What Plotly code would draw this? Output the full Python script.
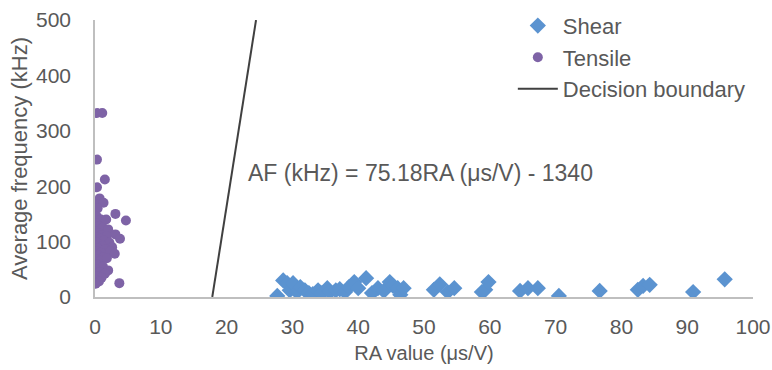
import plotly.graph_objects as go

# Shear data (RA value μs/V, AF kHz)
shear_ra = [27.7, 28.6, 29.2, 29.6, 30.1, 30.7, 31.2, 31.9, 32.5, 33.1, 33.9, 34.5, 35.3, 35.7,
            36.6, 37.2, 38.0, 38.6, 39.4, 40.0, 41.2, 42.1, 43.0, 43.9, 44.8, 45.3, 46.0, 46.4,
            46.9, 51.5, 52.4, 53.6, 54.6, 58.8, 59.3, 59.8, 64.6, 65.8, 67.3, 70.5, 76.7, 82.5,
            83.3, 84.3, 90.9, 95.7]
shear_af = [2, 30, 25, 12, 25, 9, 18, 12, 7, 5, 12, 7, 16, 9,
            12, 14, 9, 18, 27, 16, 34, 7, 16, 11, 27, 20, 16, 4,
            16, 13, 23, 9, 16, 9, 13, 27, 11, 16, 16, 2, 11, 13,
            20, 22, 9, 32]

# Tensile data
tensile_ra = [0.3, 1.1, 0.3, 1.5, 0.3, 0.7, 0.2, 1.3, 0.4, 3.1, 0.3, 0.9, 1.7, 4.7, 0.2, 0.6,
              1.2, 2.0, 0.1, 0.5, 1.0, 3.1, 1.8, 0.3, 0.8, 3.8, 1.4, 0.2, 2.2, 0.6, 1.1, 0.4,
              2.6, 1.6, 0.2, 0.9, 2.3, 0.5, 1.3, 3.0, 0.2, 0.8, 1.8, 0.4, 1.2, 0.1, 2.0, 0.7,
              1.5, 0.3, 1.0, 0.2, 0.6, 3.7, 0.1]
tensile_af = [332, 332, 248, 212, 198, 178, 168, 170, 160, 150, 145, 140, 140, 138, 132, 128,
              125, 122, 118, 115, 112, 113, 110, 108, 105, 105, 102, 98, 98, 95, 92, 88,
              90, 86, 82, 80, 82, 75, 72, 78, 68, 65, 70, 58, 55, 50, 48, 45,
              42, 38, 35, 30, 28, 25, 24]

# Decision boundary: AF = 75.18*RA - 1340
slope = 75.18
intercept = -1340
boundary_af = [0, 500]
boundary_ra = [(a - intercept) / slope for a in boundary_af]

x_ticks = [0, 10, 20, 30, 40, 50, 60, 70, 80, 90, 100]
y_ticks = [0, 100, 200, 300, 400, 500]

FONT = "Liberation Sans, Arial, sans-serif"
TXT = "#595959"

fig = go.Figure()
fig.add_trace(go.Scatter(
    x=shear_ra, y=shear_af, mode="markers", name="Shear", legendgroup="a",
    marker=dict(symbol="diamond", size=12.5, color="#5B93D0", line=dict(width=0)),
))
fig.add_trace(go.Scatter(
    x=tensile_ra, y=tensile_af, mode="markers", name="Tensile", legendgroup="b",
    marker=dict(symbol="circle", size=10, color="#7E63A6", line=dict(width=0)),
))
fig.add_trace(go.Scatter(
    x=boundary_ra, y=boundary_af, mode="lines", name="Decision boundary", legendgroup="c",
    line=dict(color="#404040", width=2),
))

fig.add_annotation(
    x=23.0, y=224, xref="x", yref="y", xanchor="left", yanchor="middle",
    text="AF (kHz) = 75.18RA (μs/V) - 1340", showarrow=False,
    font=dict(family=FONT, size=23, color=TXT),
)

fig.update_layout(
    width=772, height=370,
    margin=dict(l=95, r=19, t=20, b=73, autoexpand=False),
    paper_bgcolor="white", plot_bgcolor="white",
    font=dict(family=FONT, size=22, color=TXT),
    showlegend=True,
    legend=dict(
        x=0.635, y=1.055, xanchor="left", yanchor="top", traceorder="normal",
        bgcolor="rgba(0,0,0,0)", font=dict(family=FONT, size=22, color=TXT),
        tracegroupgap=6, itemwidth=40,
    ),
    xaxis=dict(
        range=[0, 100], tickvals=x_ticks, ticktext=[str(v) for v in x_ticks],
        showgrid=False, zeroline=False, showline=True, linecolor="#BFBFBF", linewidth=1.5,
        ticks="outside", ticklen=10, tickcolor="rgba(0,0,0,0)", automargin=False,
        title=dict(text="RA value (μs/V)", font=dict(size=20, color=TXT), standoff=9),
        tickfont=dict(size=21, color=TXT),
    ),
    yaxis=dict(
        range=[0, 500], tickvals=y_ticks, ticktext=[str(v) for v in y_ticks],
        showgrid=False, zeroline=False, showline=True, linecolor="#BFBFBF", linewidth=1.5,
        ticks="outside", ticklen=18, tickcolor="rgba(0,0,0,0)", automargin=False,
        title=dict(text="Average frequency (kHz)", font=dict(size=22, color=TXT), standoff=2),
        tickfont=dict(size=21, color=TXT),
    ),
)

fig.write_html(
    "out.html",
    config={"displayModeBar": False},
    post_script="document.body.style.margin='0';document.body.style.overflow='hidden';"
                "document.documentElement.style.overflow='hidden';",
)
